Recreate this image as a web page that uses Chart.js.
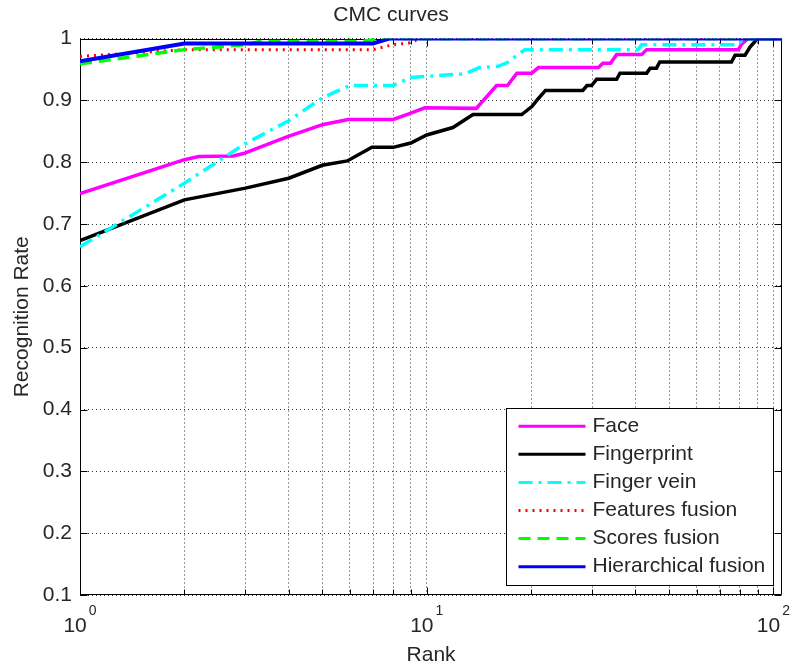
<!DOCTYPE html>
<html><head><meta charset="utf-8">
<script src="https://cdn.jsdelivr.net/npm/chart.js@4/dist/chart.umd.min.js"></script>
<style>html,body{margin:0;padding:0;background:#fff}#wrap{width:792px;height:668px}</style>
</head><body><div id="wrap"><canvas id="c" width="792" height="668"></canvas></div>
<script>
const titleText = 'CMC curves';
const xTitle = 'Rank';
const yTitle = 'Recognition Rate';
const seriesNames = ['Face','Fingerprint','Finger vein','Features fusion','Scores fusion','Hierarchical fusion'];

const faceRank = [1, 2, 2.2, 2.77, 2.96, 3.95, 5.03, 5.94, 8.01, 8.96, 9.88, 13.9, 15.9, 17.1, 18.2, 20.1, 21.0, 31.3, 32.2, 33.9, 35.3, 41.7, 43.1, 79.2, 81, 84.5, 106];
const faceRate = [0.749, 0.804, 0.809, 0.810, 0.814, 0.841, 0.861, 0.869, 0.869, 0.879, 0.888, 0.887, 0.924, 0.924, 0.944, 0.944, 0.953, 0.953, 0.960, 0.960, 0.974, 0.974, 0.982, 0.982, 0.991, 1, 1];

const fingerprintRank = [1, 2, 3, 4, 5, 5.9, 6.95, 8, 9, 10, 11.9, 13.6, 18.8, 20.1, 21, 22, 28.2, 29, 29.9, 30.9, 35.3, 36.1, 43.1, 44.1, 46, 47, 75.7, 77.5, 82.8, 85.6, 90, 106];
const fingerprintRate = [0.673, 0.739, 0.758, 0.774, 0.795, 0.802, 0.824, 0.824, 0.831, 0.844, 0.856, 0.877, 0.877, 0.890, 0.903, 0.916, 0.916, 0.924, 0.924, 0.934, 0.934, 0.944, 0.944, 0.952, 0.952, 0.962, 0.962, 0.973, 0.973, 0.986, 1, 1];

const veinRank = [1, 2, 3, 4, 5, 6, 8, 9, 12.9, 14.2, 16.1, 17.2, 18.2, 19.2, 40.7, 41.7, 78.4, 81, 83, 106];
const veinRate = [0.663, 0.766, 0.830, 0.867, 0.904, 0.924, 0.924, 0.937, 0.943, 0.953, 0.955, 0.962, 0.973, 0.982, 0.982, 0.990, 0.990, 0.996, 1, 1];

const featuresRank = [1, 2, 7, 8, 9, 9.5, 106];
const featuresRate = [0.971, 0.982, 0.982, 0.990, 0.993, 1, 1];

const scoresRank = [1, 2, 3, 3.3, 6.5, 7.2, 106];
const scoresRate = [0.959, 0.982, 0.990, 0.995, 0.995, 1, 1];

const hierRank = [1, 2, 7, 7.8, 106];
const hierRate = [0.963, 0.992, 0.992, 1, 1];

const xGridValues = [1,2,3,4,5,6,7,8,9,10,20,30,40,50,60,70,80,90,100];
const xMajorValues = [1,10,100];
const xLabelBase = '10';
const xLabelExponents = ['0','1','2'];
const yTickValues = [0.1,0.2,0.3,0.4,0.5,0.6,0.7,0.8,0.9,1.0];
const xMin = 1, xMax = 106, yMin = 0.1, yMax = 1;

const FONT = "'Liberation Sans', Arial, sans-serif";
const TXT = '#262626';

function pts(r, v) { return r.map((x, i) => ({x: x, y: v[i]})); }

const styles = [
  {color:'#ff00ff', dash:[], width:3.5, order:6},
  {color:'#000000', dash:[], width:3.5, order:5},
  {color:'#00ffff', dash:[14,6,3,6], width:3.5, order:4},
  {color:'#ff0000', dash:[2,5], width:3, order:3},
  {color:'#00ff00', dash:[12,7], width:3.5, order:2},
  {color:'#0000ff', dash:[], width:4, order:1}
];
const seriesData = [
  pts(faceRank, faceRate), pts(fingerprintRank, fingerprintRate), pts(veinRank, veinRate),
  pts(featuresRank, featuresRate), pts(scoresRank, scoresRate), pts(hierRank, hierRate)
];

const datasets = seriesNames.map((n, i) => ({
  label: n, data: seriesData[i], borderColor: styles[i].color, backgroundColor: styles[i].color,
  borderWidth: styles[i].width, borderDash: styles[i].dash, pointRadius: 0, tension: 0,
  fill: false, order: styles[i].order
}));

const framePlugin = {
  id: 'frame',
  beforeDatasetsDraw(chart) {
    const {ctx, chartArea: a, scales: {x, y}} = chart;
    ctx.save();
    ctx.strokeStyle = '#000'; ctx.lineWidth = 1;
    const L = Math.round(a.left) + 0.5, R = Math.round(a.right) - 0.5, T = Math.round(a.top) + 0.5, B = Math.round(a.bottom) - 0.5;
    ctx.beginPath();
    ctx.rect(L, T, R - L, B - T);
    yTickValues.forEach(v => {
      const py = Math.round(y.getPixelForValue(v)) + 0.5;
      ctx.moveTo(L, py); ctx.lineTo(L + 7, py);
      ctx.moveTo(R, py); ctx.lineTo(R - 7, py);
    });
    xGridValues.forEach(v => {
      const px = Math.round(x.getPixelForValue(v)) + 0.5;
      const len = xMajorValues.includes(v) ? 7 : 5;
      ctx.moveTo(px, B); ctx.lineTo(px, B - len);
      ctx.moveTo(px, T); ctx.lineTo(px, T + len);
    });
    ctx.stroke();
    ctx.restore();
  },
  afterDraw(chart) {
    const {ctx, chartArea: a, scales: {x}} = chart;
    ctx.save();
    ctx.fillStyle = TXT;
    ctx.textBaseline = 'alphabetic';
    ctx.textAlign = 'left';
    xMajorValues.forEach((v, i) => {
      const px = x.getPixelForValue(v);
      ctx.font = '21px ' + FONT;
      const w1 = ctx.measureText(xLabelBase).width;
      ctx.font = '14px ' + FONT;
      const w2 = ctx.measureText(xLabelExponents[i]).width;
      const gap = 2;
      const start = px - (w1 + gap + w2) / 2;
      ctx.font = '21px ' + FONT;
      ctx.fillText(xLabelBase, start, a.bottom + 37);
      ctx.font = '14px ' + FONT;
      ctx.fillText(xLabelExponents[i], start + w1 + gap, a.bottom + 20);
    });
    // legend
    const bw = 267, bh = 177;
    const bx = Math.round(a.right - 9 - bw) + 0.5, by = Math.round(a.bottom - 10 - bh) + 0.5;
    ctx.fillStyle = '#fff';
    ctx.fillRect(bx, by, bw, bh);
    ctx.strokeStyle = '#000'; ctx.lineWidth = 1;
    ctx.strokeRect(bx, by, bw, bh);
    ctx.font = '21px ' + FONT;
    ctx.textBaseline = 'middle';
    chart.data.datasets.forEach((d, i) => {
      const yy = by + 17.7 + i * 28.1;
      ctx.save();
      ctx.strokeStyle = d.borderColor; ctx.lineWidth = 3; ctx.setLineDash(d.borderDash || []);
      ctx.beginPath(); ctx.moveTo(bx + 12, yy); ctx.lineTo(bx + 79, yy); ctx.stroke();
      ctx.restore();
      ctx.fillStyle = TXT;
      ctx.fillText(d.label, bx + 86, yy);
    });
    ctx.restore();
  }
};

new Chart(document.getElementById('c'), {
  type: 'line',
  data: {datasets},
  options: {
    responsive: false, animation: false, devicePixelRatio: 1,
    layout: {padding: {left: 0, right: 9.8, top: 0, bottom: 0}},
    plugins: {
      legend: {display: false}, tooltip: {enabled: false},
      title: {display: true, text: titleText, color: TXT, font: {family: FONT, size: 21, weight: 'normal'}, padding: {top: 3, bottom: 10.3}}
    },
    scales: {
      x: {
        type: 'logarithmic', min: xMin, max: xMax,
        afterBuildTicks: s => { s.ticks = xGridValues.map(v => ({value: v})); },
        afterFit: s => { s.height = 73; },
        ticks: {display: false, autoSkip: false},
        grid: {color: '#333', lineWidth: 1, drawTicks: false},
        border: {display: false, dash: [1, 3]},
        title: {display: true, text: xTitle, color: TXT, font: {family: FONT, size: 21}, padding: {top: 0, bottom: 0}}
      },
      y: {
        type: 'linear', min: yMin, max: yMax,
        afterBuildTicks: s => { s.ticks = yTickValues.map(v => ({value: v})); },
        afterFit: s => { s.width = 80; },
        ticks: {autoSkip: false, padding: 8, color: TXT, font: {family: FONT, size: 21}, callback: v => String(+Number(v).toFixed(1))},
        grid: {color: '#333', lineWidth: 1, drawTicks: false},
        border: {display: false, dash: [1, 3]},
        title: {display: true, text: yTitle, color: TXT, font: {family: FONT, size: 21}, padding: {top: 10, bottom: 0}}
      }
    }
  },
  plugins: [framePlugin]
});
</script></body></html>
